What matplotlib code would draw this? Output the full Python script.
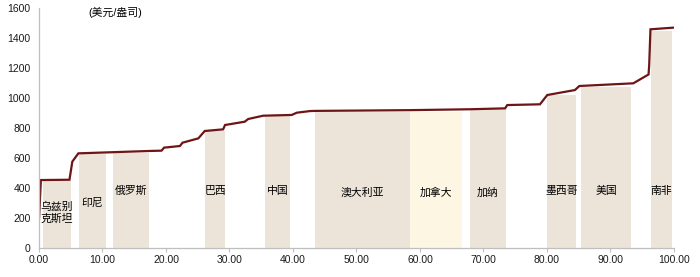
import matplotlib
matplotlib.use("Agg")
import matplotlib.pyplot as plt
from matplotlib.ticker import FuncFormatter, MultipleLocator

plt.rcParams['font.family'] = ['Liberation Sans', 'Noto Sans CJK SC', 'DejaVu Sans']

# Cumulative production share (%) and all-in sustaining cost (USD/oz)
curve_x = [0, 0.3, 4.8, 5.25, 6.2, 17.5, 19.3, 19.7, 22.2, 22.6, 25.1, 26.1, 29.0,
           29.3, 32.4, 32.95, 35.3, 39.8, 40.6, 42.7, 43.5, 58.4, 67.9, 73.4, 73.75,
           78.9, 80.05, 84.4, 85.1, 93.6, 96.0, 96.1, 96.3, 99.9]
curve_y = [190, 453, 455, 576, 631, 647, 649, 669, 680, 702, 731, 780, 791,
           820, 842, 860, 882, 887, 902, 913, 914, 919, 925, 931, 953,
           958, 1020, 1053, 1080, 1098, 1157, 1220, 1458, 1469]

# Country blocks: label, start share, end share, cost
countries = ["乌兹别\n克斯坦", "印尼", "俄罗斯", "巴西", "中国", "澳大利亚",
             "加拿大", "加纳", "墨西哥", "美国", "南非"]
block_start = [0.63, 6.3, 11.6, 26.2, 35.6, 43.5, 58.4, 67.9, 80.05, 85.35, 96.4]
block_end = [5.04, 10.55, 17.4, 29.3, 39.6, 58.4, 66.6, 73.5, 84.6, 93.3, 99.7]
block_cost = [445, 624, 632, 782, 880, 905, 907, 924, 1022, 1071, 1449]
highlight = "加拿大"

# Label heights (cost axis units)
label_y = [233, 303, 382, 380, 382, 372, 368, 370, 380, 382, 382]

fig = plt.figure(figsize=(7.0, 2.77), dpi=100)
ax = fig.add_axes([0.0557, 0.1047, 0.9071, 0.8664])

base_color = "#ECE4D9"
hl_color = "#FDF6E3"
for name, x0, x1, h in zip(countries, block_start, block_end, block_cost):
    ax.bar(x0, h, width=x1 - x0, align="edge",
           color=hl_color if name == highlight else base_color,
           edgecolor="none", zorder=1)

for name, x0, x1, ly in zip(countries, block_start, block_end, label_y):
    ax.text((x0 + x1) / 2, ly, name, ha="center", va="center",
            fontsize=7.8, color="#000000", fontweight="medium",
            linespacing=1.2, zorder=3)

ax.plot(curve_x, curve_y, color="#6E1516", lw=1.6, solid_joinstyle="miter", zorder=2)

ax.text(12.0, 1573, "(美元/盎司)", ha="center", va="center", fontsize=7.8,
        color="#000000", fontweight="medium")

ax.set_xlim(0, 100)
ax.set_ylim(0, 1600)
ax.xaxis.set_major_locator(MultipleLocator(10))
ax.yaxis.set_major_locator(MultipleLocator(200))
ax.xaxis.set_major_formatter(FuncFormatter(lambda v, p: f"{v:.2f}"))

for side in ("top", "right"):
    ax.spines[side].set_visible(False)
for side in ("left", "bottom"):
    ax.spines[side].set_color("#BFBFBF")
    ax.spines[side].set_linewidth(0.9)

ax.tick_params(axis="x", length=3, color="#BFBFBF", labelsize=7.5, labelcolor="#1a1a1a", pad=2)
ax.tick_params(axis="y", length=0, labelsize=7.5, labelcolor="#1a1a1a", pad=6)

fig.savefig("out.png", dpi=100)
